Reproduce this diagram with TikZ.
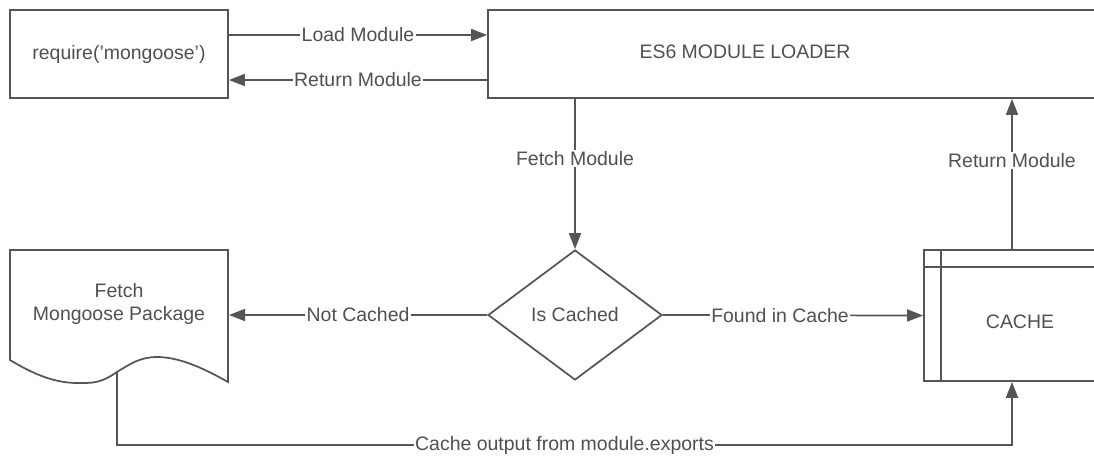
\documentclass[tikz,border=0pt]{standalone}
\usepackage{fontspec}
\setmainfont{Liberation Sans}
\usetikzlibrary{shapes.geometric,arrows.meta}
\definecolor{lineclr}{HTML}{555555}
\definecolor{txtclr}{HTML}{505050}
\begin{document}
\begin{tikzpicture}[x=0.75pt,y=-0.75pt,
  every node/.style={font=\fontsize{14.6}{17.25}\selectfont,text=txtclr},
  box/.style={draw=lineclr,line width=1.3pt,rectangle,inner sep=0pt},
  decision/.style={draw=lineclr,line width=1.3pt,diamond,inner sep=0pt},
  link/.style={draw=lineclr,line width=1.3pt},
  arr/.style={link,-{Triangle[length=12pt,width=9pt]}},
  lbl/.style={fill=white,inner sep=1pt}]
  \clip (0,0) rectangle (1094,455);

  % process boxes
  \node[box,minimum width=163.5pt,minimum height=66pt] (req) at (119,54) {require({\char"27}mongoose{\char"27})};
  \node[box,minimum width=466.5pt,minimum height=66pt] (es6) at (799,54) {};
  \node (es6text) at (745,52) {ES6 MODULE LOADER};

  % decision
  \node[decision,minimum width=130.5pt,minimum height=97.5pt] (dia) at (575,315) {Is Cached};

  % cache store with header strip and side strip
  \node[box,minimum width=139.5pt,minimum height=98.25pt] (cache) at (1017,315.5) {};
  \node (cachetext) at (1020,322) {CACHE};
  \draw[link] ([xshift=13.5pt]cache.north west) -- ([xshift=13.5pt]cache.south west);
  \draw[link] ([yshift=-13.5pt]cache.north west) -- ([yshift=-13.5pt]cache.north east);

  % document shape
  \draw[link,line join=miter] (10,360) -- (10,250) -- (228,250) -- (228,382)
    .. controls (205,369) and (180,357) .. (157,357)
    .. controls (140,357) and (130,364) .. (117,372)
    .. controls (108,378) and (100,383) .. (85,383)
    .. controls (60,384) and (40,378) .. (10,360) -- cycle;
  \node[align=center] (doc) at (119,303.5) {Fetch\\Mongoose Package};
  \coordinate (docE) at (229,315);
  \coordinate (docB) at (117,372);
  \coordinate (bl) at (117,445);
  \coordinate (br) at (1012,445);

  % connectors
  \draw[arr] (req.east |- 0,35) -- node[lbl] {Load Module} (es6.west |- 0,35);
  \draw[arr] (es6.west |- 0,80) -- node[lbl] {Return Module} (req.east |- 0,80);
  \draw[arr] (es6.south -| dia.north) -- node[lbl,pos=0.395] {Fetch Module} (dia.north);
  \draw[arr] (dia.west) -- node[lbl] {Not Cached} (docE);
  \draw[arr] (dia.east) -- node[lbl,pos=0.45] {Found in Cache} (cache.west);
  \draw[arr] (cache.north -| br) -- node[lbl,pos=0.59] {Return Module} (es6.south -| br);
  \draw[arr] (docB) -- (bl) -- node[lbl] {Cache output from module.exports} (br) -- (cache.south -| br);
\end{tikzpicture}
\end{document}
